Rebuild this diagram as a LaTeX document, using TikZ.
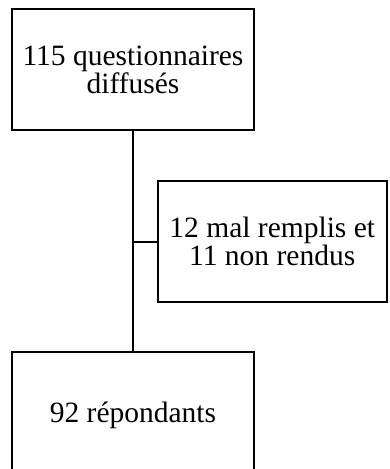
\documentclass[tikz,border=0pt]{standalone}
\usepackage{fontspec}
\setmainfont{Liberation Serif}
\begin{document}
\begin{tikzpicture}[x=1pt,y=-1pt,
  boxstyle/.style={draw, line width=2pt, align=center, inner sep=0pt,
    font=\fontsize{29.5}{28}\selectfont},
  linkstyle/.style={line width=2pt}]
\useasboundingbox (0,0) rectangle (389,469);
\clip (0,0) rectangle (389,469);
\node[boxstyle, minimum width=242pt, minimum height=121pt] (top) at (133,69.5) {115 questionnaires\\diffusés};
\node[boxstyle, minimum width=228.5pt, minimum height=121pt] (mid) at (272.25,241.5) {12 mal remplis et\\11 non rendus};
\node[boxstyle, minimum width=242pt, minimum height=121pt, text depth=0pt] (bot) at (133,412.5) {\raisebox{1.5pt}{92 répondants}};
\draw[linkstyle] (top.south) -- (bot.north);
\draw[linkstyle] (mid.west) -- (mid.west -| top.south);
\end{tikzpicture}
\end{document}
